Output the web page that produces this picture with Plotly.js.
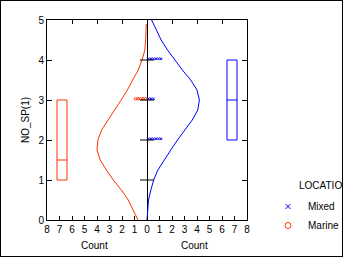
<!DOCTYPE html>
<html>
<head>
<meta charset="utf-8">
<script src="https://cdn.plot.ly/plotly-3.0.1.min.js"></script>
<style>
  html, body { margin: 0; padding: 0; background: #fff; }
  #chart { width: 341px; height: 255px; border: 1px solid #000; }
</style>
</head>
<body>
<div id="chart"></div>
<script>
// ---- data ----
const curveLevels = [0, 0.25, 0.5, 0.75, 1.0, 1.25, 1.5, 1.75, 2.0, 2.25, 2.5, 2.75, 3.0, 3.25, 3.5, 3.75, 4.0, 4.25, 4.5, 4.75, 4.9];
const marineCounts = [0.72, 1.1, 1.5, 2.05, 2.7, 3.25, 3.75, 4.0, 3.93, 3.63, 3.15, 2.6, 2.07, 1.57, 1.15, 0.7, 0.4, 0.17, 0.11, 0.08, 0.06];
const mixedLevels = [0, 0.25, 0.5, 0.75, 1.0, 1.25, 1.5, 1.75, 2.0, 2.25, 2.5, 2.75, 3.0, 3.25, 3.5, 3.75, 4.0, 4.25, 4.5, 4.75, 5.0];
const mixedCounts = [0, 0.04, 0.12, 0.31, 0.53, 0.87, 1.36, 1.9, 2.44, 3.05, 3.62, 4.06, 4.19, 4.0, 3.5, 2.83, 2.22, 1.64, 1.13, 0.74, 0.37];

const mixedDotValues = [2, 3, 4];
const mixedDotCounts = [6, 3, 6];
const marineDotValues = [3];
const marineDotCounts = [5];

const marineBox = { q1: 1, median: 1.5, q3: 3, min: 1, max: 3 };
const mixedBox  = { q1: 2, median: 3, q3: 4, min: 2, max: 4 };

const seriesNames = ['Mixed', 'Marine'];
const legendTitle = 'LOCATIO';
const yTickVals = [0, 1, 2, 3, 4, 5];
const centerTickVals = [1, 2, 3, 4];
const xTickVals = [-8, -7, -6, -5, -4, -3, -2, -1, 0, 1, 2, 3, 4, 5, 6, 7, 8];
const xTickText = ['8', '7', '6', '5', '4', '3', '2', '1', '0', '1', '2', '3', '4', '5', '6', '7', '8'];
const topTickVals = [-6, -4, -2, 2, 4, 6];

// ---- styling / layout constants ----
const RED = '#ff3300';
const BLUE = '#0000ff';
const FONT = 'Liberation Sans, Arial, sans-serif';
const boxCenter = 6.8, boxWidth = 0.8;
const dotStart = 0.12, dotStep = 0.2, dotLift = 0.03;

function dots(values, counts, sign) {
  const xs = [], ys = [];
  values.forEach((v, k) => {
    for (let i = 0; i < counts[k]; i++) { xs.push(sign * (dotStart + i * dotStep)); ys.push(v + dotLift); }
  });
  return { xs, ys };
}
const md = dots(mixedDotValues, mixedDotCounts, 1);
const rd = dots(marineDotValues, marineDotCounts, -1);

const traces = [
  { type: 'scatter', mode: 'lines', x: mixedCounts, y: mixedLevels,
    line: { color: BLUE, width: 1 }, showlegend: false, hoverinfo: 'skip' },
  { type: 'scatter', mode: 'lines', x: marineCounts.map(c => -c), y: curveLevels,
    line: { color: RED, width: 1 }, showlegend: false, hoverinfo: 'skip' },
  { type: 'box', x: [-boxCenter], q1: [marineBox.q1], median: [marineBox.median], q3: [marineBox.q3],
    lowerfence: [marineBox.min], upperfence: [marineBox.max], width: boxWidth, whiskerwidth: 0,
    line: { color: RED, width: 1 }, fillcolor: 'rgba(0,0,0,0)', boxpoints: false, showlegend: false, hoverinfo: 'skip' },
  { type: 'box', x: [boxCenter], q1: [mixedBox.q1], median: [mixedBox.median], q3: [mixedBox.q3],
    lowerfence: [mixedBox.min], upperfence: [mixedBox.max], width: boxWidth, whiskerwidth: 0,
    line: { color: BLUE, width: 1 }, fillcolor: 'rgba(0,0,0,0)', boxpoints: false, showlegend: false, hoverinfo: 'skip' },
  { type: 'scatter', mode: 'markers', x: centerTickVals.map(() => 0), y: centerTickVals, xaxis: 'x2',
    marker: { symbol: 'line-ew', size: 10, line: { width: 1, color: '#000' } }, showlegend: false, hoverinfo: 'skip' },
  { type: 'scatter', mode: 'markers', x: md.xs, y: md.ys, name: seriesNames[0],
    marker: { symbol: 'x-thin', size: 2.5, line: { width: 1, color: BLUE }, color: BLUE }, showlegend: false, hoverinfo: 'skip' },
  { type: 'scatter', mode: 'markers', x: rd.xs, y: rd.ys, name: seriesNames[1],
    marker: { symbol: 'circle-open', size: 2.5, line: { width: 1 }, color: RED }, showlegend: false, hoverinfo: 'skip' },
  // legend keys
  { type: 'scatter', mode: 'markers', x: [null], y: [null], name: seriesNames[0],
    marker: { symbol: 'x-thin', size: 5, line: { width: 1, color: BLUE }, color: BLUE } },
  { type: 'scatter', mode: 'markers', x: [null], y: [null], name: seriesNames[1],
    marker: { symbol: 'circle-open', size: 6, line: { width: 1 }, color: RED } }
];

const axisFont = { family: FONT, size: 10, color: '#000' };
const layout = {
  width: 341, height: 255,
  margin: { l: 46, r: 95, t: 19, b: 36, pad: 0, autoexpand: false },
  paper_bgcolor: '#fff', plot_bgcolor: '#fff',
  font: axisFont,
  showlegend: true,
  legend: {
    x: 1.18, xanchor: 'left', y: 0.14, yanchor: 'top',
    indentation: -15,
    bgcolor: 'rgba(0,0,0,0)', borderwidth: 0,
    font: { family: FONT, size: 10, color: '#000' },
    traceorder: 'normal'
  },
  xaxis: {
    range: [-8, 8], tickmode: 'array', tickvals: xTickVals, ticktext: xTickText,
    ticks: 'inside', ticklen: 4, tickcolor: '#000', tickwidth: 1,
    showline: true, linecolor: '#000', linewidth: 1, mirror: true,
    showgrid: false, zeroline: true, zerolinecolor: '#000', zerolinewidth: 1,
    tickfont: axisFont, fixedrange: true
  },
  xaxis2: {
    overlaying: 'x', side: 'top', anchor: 'y', range: [-8, 8],
    tickmode: 'array', tickvals: topTickVals, ticks: 'inside', ticklen: 4, tickcolor: '#000',
    showticklabels: false, showline: false, showgrid: false, zeroline: false, fixedrange: true
  },
  yaxis: {
    range: [0, 5], tickmode: 'array', tickvals: yTickVals,
    ticks: 'inside', ticklen: 5, tickcolor: '#000', tickwidth: 1,
    showline: true, linecolor: '#000', linewidth: 1, mirror: 'ticks',
    showgrid: false, zeroline: false, tickfont: axisFont, fixedrange: true,
    title: { text: 'NO_SP(1)', font: axisFont, standoff: 6 }
  },
  annotations: [
    { text: 'Count', xref: 'x', yref: 'paper', x: -4.2, y: -0.125, showarrow: false, font: axisFont, xanchor: 'center', yanchor: 'middle' },
    { text: 'Count', xref: 'x', yref: 'paper', x: 3.8, y: -0.125, showarrow: false, font: axisFont, xanchor: 'center', yanchor: 'middle' },
    { text: legendTitle, xref: 'paper', yref: 'paper', x: 1.25, y: 0.1715, showarrow: false, font: axisFont, xanchor: 'left', yanchor: 'middle' }
  ]
};

Plotly.newPlot('chart', traces, layout, { displayModeBar: false, staticPlot: true });
</script>
</body>
</html>
